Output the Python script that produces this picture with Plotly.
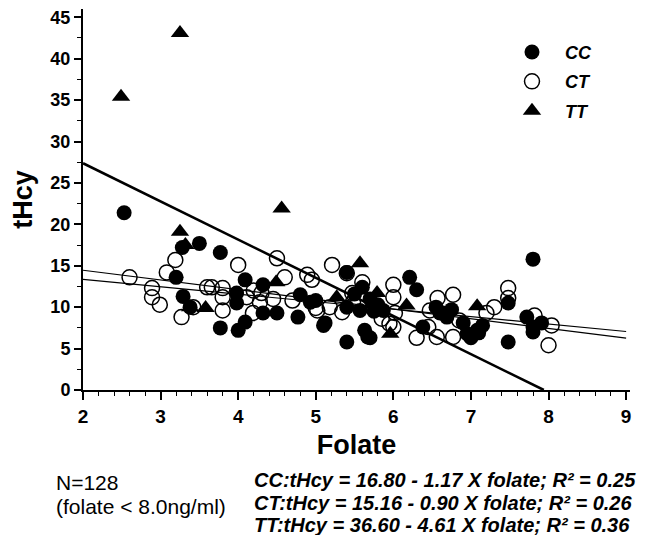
import plotly.graph_objects as go

# ---- data ----
cc_x = [2.53, 3.28, 3.50, 3.20, 3.29, 3.38, 3.77, 3.77, 4.09, 3.98, 3.98, 4.32, 4.32, 4.50,
        4.00, 4.09, 4.80, 4.77, 4.93, 5.40, 5.60, 5.00, 5.12, 5.40, 5.63, 5.70, 5.40, 5.57,
        6.21, 6.30, 5.87, 6.38, 6.64, 6.69, 6.90, 7.08, 7.48, 7.48, 7.80, 7.72, 7.80, 7.91,
        7.00, 6.60, 7.10, 7.80, 5.67, 5.10, 5.70, 5.75, 5.80, 5.50, 6.55, 6.75, 7.15, 6.95]
cc_y = [21.4, 17.2, 17.7, 13.6, 11.3, 10.0, 16.6, 7.5, 13.3, 11.7, 10.5, 12.7, 9.3, 9.3,
        7.2, 8.2, 11.5, 8.8, 10.6, 14.2, 12.4, 10.8, 8.1, 5.8, 7.2, 6.3, 10.0, 9.6,
        13.6, 12.1, 9.6, 7.6, 9.3, 8.8, 8.1, 7.2, 10.5, 5.8, 15.8, 8.8, 7.6, 8.1,
        6.3, 9.3, 6.9, 7.0, 6.4, 7.8, 11.0, 9.5, 10.3, 11.6, 10.0, 9.7, 7.8, 6.8]

ct_x = [2.60, 2.89, 2.89, 2.99, 3.19, 3.08, 3.27, 3.42, 3.60, 4.00, 3.66, 3.80, 3.80, 3.80,
        4.50, 4.60, 4.30, 4.89, 4.19, 5.00, 5.21, 5.40, 5.60, 6.00, 6.00, 4.95, 5.18, 6.00,
        6.30, 6.57, 6.77, 7.48, 7.48, 7.20, 6.47, 6.56, 6.77, 7.82, 8.04, 8.00, 4.11, 4.28,
        5.02, 5.47, 5.48, 5.34, 6.02, 6.45, 4.70, 4.45, 5.95, 7.30, 6.85, 5.85, 4.20]
ct_y = [13.6, 12.3, 11.2, 10.3, 15.7, 14.2, 8.8, 10.0, 12.4, 15.1, 12.4, 12.3, 11.2, 9.6,
        15.9, 13.6, 11.7, 13.9, 9.3, 9.9, 15.1, 14.1, 13.0, 12.7, 11.2, 13.3, 10.0, 7.6,
        6.3, 11.1, 11.5, 12.3, 11.1, 9.3, 9.6, 6.4, 6.4, 9.0, 7.8, 5.4, 11.2, 10.6,
        9.6, 11.7, 10.6, 9.4, 9.3, 7.6, 10.8, 11.0, 8.0, 10.0, 8.4, 8.6, 12.0]

tt_x = [2.49, 3.25, 4.56, 3.25, 3.32, 3.58, 3.38, 4.49, 5.57, 5.79, 5.27, 6.17, 5.96, 7.08, 5.72]
tt_y = [35.4, 43.1, 21.9, 19.1, 17.5, 9.9, 10.0, 13.0, 15.3, 11.7, 11.2, 10.2, 6.8, 10.1, 10.3]

# regression equations (intercept, slope) as printed
groups = ["CC", "CT", "TT"]
intercepts = [16.80, 15.16, 36.60]
slopes = [-1.17, -0.90, -4.61]
r2 = ["0.25", "0.26", "0.36"]

x_ticks = [2, 3, 4, 5, 6, 7, 8, 9]
y_ticks = [0, 5, 10, 15, 20, 25, 30, 35, 40, 45]

FONT = "Liberation Sans"

fig = go.Figure()

msize = 15
fig.add_trace(go.Scatter(x=cc_x, y=cc_y, mode="markers", name="CC", legendgroup="CC",
                         marker=dict(symbol="circle", size=msize, color="black")))
fig.add_trace(go.Scatter(x=ct_x, y=ct_y, mode="markers", name="CT", legendgroup="CT",
                         marker=dict(symbol="circle-open", size=msize, color="black",
                                     line=dict(width=1.5, color="black"))))
fig.add_trace(go.Scatter(x=tt_x, y=tt_y, mode="markers", name="TT", legendgroup="TT",
                         marker=dict(symbol="triangle-up", size=msize + 1, color="black")))

# regression lines
for g, a, b in zip(groups, intercepts, slopes):
    x0 = 2.0
    x1 = 9.0 if g != "TT" else -a / b
    width = 1.2 if g != "TT" else 2.6
    fig.add_trace(go.Scatter(x=[x0, x1], y=[a + b * x0, a + b * x1], mode="lines",
                             showlegend=False, line=dict(color="black", width=width),
                             hoverinfo="skip"))

# page offset (body margin of the page) compensation
OFF = 8
W, H = 647 - OFF, 535 - OFF
plot_top, plot_bottom, plot_left, plot_right = 9 - OFF, 390 - OFF, 83 - OFF, 630 - OFF
ph = plot_bottom - plot_top
pw = plot_right - plot_left


def py(pix):
    return (plot_bottom - (pix - OFF)) / ph


def px(pix):
    return ((pix - OFF) - plot_left) / pw


fig.add_annotation(text="N=128", x=px(54), y=py(482), xref="paper", yref="paper",
                   xanchor="left", yanchor="middle", showarrow=False,
                   font=dict(family=FONT, size=21, color="black"))
fig.add_annotation(text="(folate < 8.0ng/ml)", x=px(54), y=py(507), xref="paper", yref="paper",
                   xanchor="left", yanchor="middle", showarrow=False,
                   font=dict(family=FONT, size=21, color="black"))

rows = [480, 503, 525]
for g, a, b, r, yy in zip(groups, intercepts, slopes, r2, rows):
    txt = f"{g}:tHcy = {a:.2f} - {abs(b):.2f} X folate; R² = {r}"
    fig.add_annotation(text=txt, x=px(252), y=py(yy), xref="paper", yref="paper",
                       xanchor="left", yanchor="middle", showarrow=False,
                       font=dict(family=FONT, size=20, color="black",
                                 weight="bold", style="italic"))

fig.update_xaxes(range=[2, 9.05], tickvals=x_ticks, ticktext=[str(v) for v in x_ticks],
                 ticks="outside", ticklen=8, tickwidth=1.5, tickcolor="black",
                 minor=dict(dtick=0.2, tick0=2, ticks="outside", ticklen=4,
                            tickwidth=1.2, tickcolor="black", showgrid=False),
                 showline=True, linecolor="black", linewidth=2, showgrid=False,
                 zeroline=False, ticklabeloverflow="allow",
                 tickfont=dict(family=FONT, size=19, color="black", weight="bold"),
                 title=dict(text="Folate", standoff=9,
                            font=dict(family=FONT, size=27, color="black", weight="bold")))
fig.update_yaxes(range=[0, 46], tickvals=y_ticks, ticktext=[str(v) for v in y_ticks],
                 ticks="outside", ticklen=7, tickwidth=1.5, tickcolor="black",
                 minor=dict(dtick=2.5, tick0=0, ticks="outside", ticklen=4,
                            tickwidth=1.2, tickcolor="black", showgrid=False),
                 showline=True, linecolor="black", linewidth=2, showgrid=False,
                 zeroline=False, ticklabeloverflow="allow",
                 tickfont=dict(family=FONT, size=18, color="black", weight="bold"),
                 title=dict(text="tHcy", standoff=10,
                            font=dict(family=FONT, size=27, color="black", weight="bold")))

fig.update_layout(
    width=W, height=H,
    margin=dict(l=plot_left, r=W - plot_right, t=plot_top, b=H - plot_bottom),
    paper_bgcolor="white", plot_bgcolor="white",
    showlegend=True,
    legend=dict(x=0.7605, y=0.935, xanchor="left", yanchor="top",
                bgcolor="rgba(0,0,0,0)", tracegroupgap=3, itemwidth=56,
                font=dict(family=FONT, size=18, color="black", weight="bold", style="italic")),
)

fig.write_html("out.html")
